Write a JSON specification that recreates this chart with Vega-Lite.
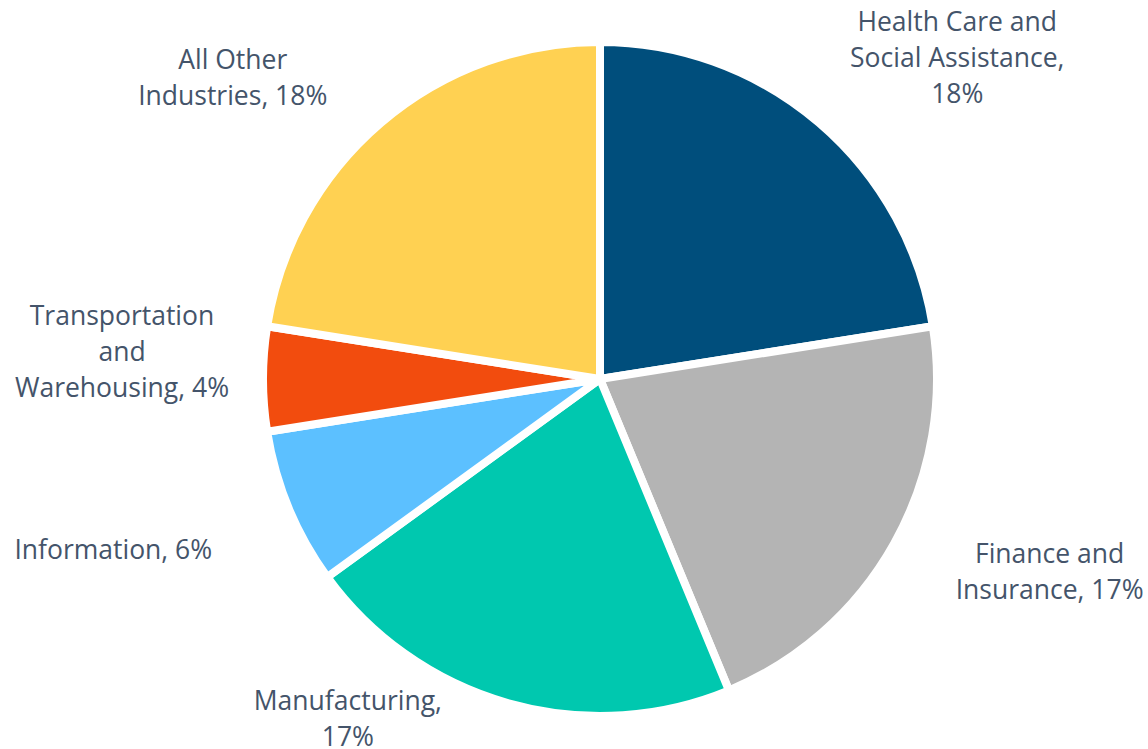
{
  "$schema": "https://vega.github.io/schema/vega-lite/v6.json",
  "width": 1096,
  "height": 738,
  "autosize": "none",
  "padding": {"left": 52, "top": 10, "right": 0, "bottom": 0},
  "background": "white",
  "config": {"view": {"stroke": null}, "text": {"font": "Open Sans"}},
  "data": {
    "values": [
      {"idx": 1, "industry": "Health Care and Social Assistance", "value": 18, "label": "Health Care and\nSocial Assistance,\n18%"},
      {"idx": 2, "industry": "Finance and Insurance", "value": 17, "label": "Finance and\nInsurance, 17%"},
      {"idx": 3, "industry": "Manufacturing", "value": 17, "label": "Manufacturing,\n17%"},
      {"idx": 4, "industry": "Information", "value": 6, "label": "Information, 6%"},
      {"idx": 5, "industry": "Transportation and Warehousing", "value": 4, "label": "Transportation\nand\nWarehousing, 4%"},
      {"idx": 6, "industry": "All Other Industries", "value": 18, "label": "All Other\nIndustries, 18%"}
    ]
  },
  "encoding": {
    "theta": {"field": "value", "type": "quantitative", "stack": true},
    "order": {"field": "idx", "type": "quantitative"}
  },
  "layer": [
    {
      "mark": {"type": "arc", "radius": 337, "stroke": "white", "strokeWidth": 8, "strokeJoin": "round"},
      "encoding": {
        "color": {
          "field": "industry",
          "type": "nominal",
          "scale": {
            "domain": ["Health Care and Social Assistance", "Finance and Insurance", "Manufacturing", "Information", "Transportation and Warehousing", "All Other Industries"],
            "range": ["#004E7C", "#B4B4B4", "#00C8AF", "#5CC0FF", "#F24C0E", "#FFD152"]
          },
          "legend": null
        }
      }
    },
    {
      "mark": {"type": "text", "radius": 450, "fontSize": 26.5, "lineBreak": "\n", "lineHeight": 36, "align": "center", "baseline": "middle", "fill": "#44546A", "dx": 65, "dy": -14},
      "encoding": {"detail": {"field": "industry"}, "text": {"condition": {"test": "datum.idx === 1", "field": "label"}, "value": ""}}
    },
    {
      "mark": {"type": "text", "radius": 450, "fontSize": 26.5, "lineBreak": "\n", "lineHeight": 36, "align": "center", "baseline": "middle", "fill": "#44546A", "dx": 57, "dy": -44},
      "encoding": {"detail": {"field": "industry"}, "text": {"condition": {"test": "datum.idx === 2", "field": "label"}, "value": ""}}
    },
    {
      "mark": {"type": "text", "radius": 450, "fontSize": 26.5, "lineBreak": "\n", "lineHeight": 36, "align": "center", "baseline": "middle", "fill": "#44546A", "dx": -130, "dy": -110},
      "encoding": {"detail": {"field": "industry"}, "text": {"condition": {"test": "datum.idx === 3", "field": "label"}, "value": ""}}
    },
    {
      "mark": {"type": "text", "radius": 450, "fontSize": 26.5, "lineBreak": "\n", "lineHeight": 36, "align": "center", "baseline": "middle", "fill": "#44546A", "dx": -71, "dy": 0},
      "encoding": {"detail": {"field": "industry"}, "text": {"condition": {"test": "datum.idx === 4", "field": "label"}, "value": ""}}
    },
    {
      "mark": {"type": "text", "radius": 450, "fontSize": 26.5, "lineBreak": "\n", "lineHeight": 36, "align": "center", "baseline": "middle", "fill": "#44546A", "dx": -28, "dy": -62},
      "encoding": {"detail": {"field": "industry"}, "text": {"condition": {"test": "datum.idx === 5", "field": "label"}, "value": ""}}
    },
    {
      "mark": {"type": "text", "radius": 450, "fontSize": 26.5, "lineBreak": "\n", "lineHeight": 36, "align": "center", "baseline": "middle", "fill": "#44546A", "dx": -75, "dy": 24},
      "encoding": {"detail": {"field": "industry"}, "text": {"condition": {"test": "datum.idx === 6", "field": "label"}, "value": ""}}
    }
  ]
}
